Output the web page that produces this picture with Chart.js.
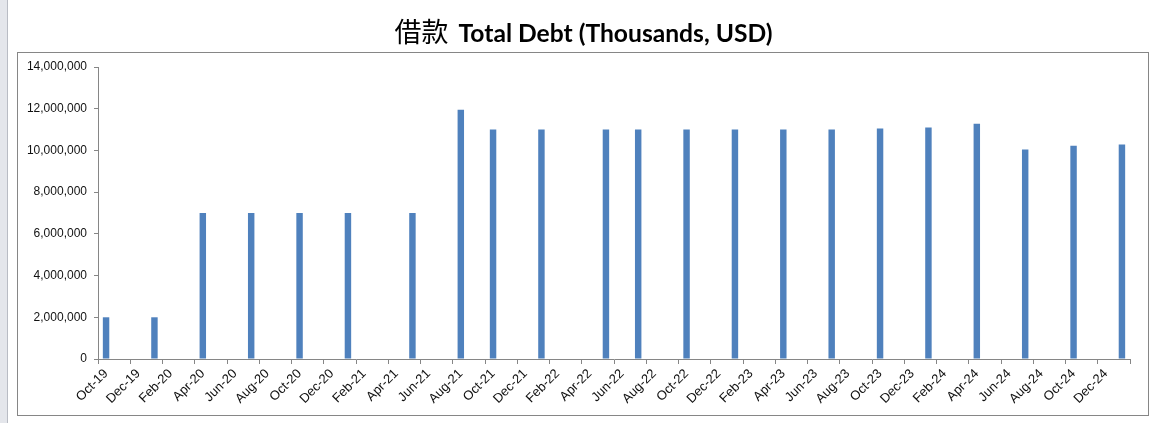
<!DOCTYPE html>
<html><head><meta charset="utf-8">
<script src="https://cdn.jsdelivr.net/npm/chart.js@4.4.1/dist/chart.umd.min.js"></script>
<style>
html,body{margin:0;padding:0;background:#fff;overflow:hidden}
#wrap{position:absolute;left:0;top:0;width:1157px;height:423px}
</style>
</head><body>
<div id="wrap"><canvas id="c" width="1157" height="423"></canvas></div>
<script>
// ---- data ----
const titleCJK = '借款';
const titleLatin = 'Total Debt (Thousands, USD)';

const months = [
  'Oct-19','Nov-19','Dec-19',
  'Jan-20','Feb-20','Mar-20','Apr-20','May-20','Jun-20','Jul-20','Aug-20','Sep-20','Oct-20','Nov-20','Dec-20',
  'Jan-21','Feb-21','Mar-21','Apr-21','May-21','Jun-21','Jul-21','Aug-21','Sep-21','Oct-21','Nov-21','Dec-21',
  'Jan-22','Feb-22','Mar-22','Apr-22','May-22','Jun-22','Jul-22','Aug-22','Sep-22','Oct-22','Nov-22','Dec-22',
  'Jan-23','Feb-23','Mar-23','Apr-23','May-23','Jun-23','Jul-23','Aug-23','Sep-23','Oct-23','Nov-23','Dec-23',
  'Jan-24','Feb-24','Mar-24','Apr-24','May-24','Jun-24','Jul-24','Aug-24','Sep-24','Oct-24','Nov-24','Dec-24',
  'Jan-25'
];

const tickLabels = [
  'Oct-19','Dec-19','Feb-20','Apr-20','Jun-20','Aug-20','Oct-20','Dec-20',
  'Feb-21','Apr-21','Jun-21','Aug-21','Oct-21','Dec-21','Feb-22','Apr-22',
  'Jun-22','Aug-22','Oct-22','Dec-22','Feb-23','Apr-23','Jun-23','Aug-23',
  'Oct-23','Dec-23','Feb-24','Apr-24','Jun-24','Aug-24','Oct-24','Dec-24'
];

const debtMonths = [
  'Oct-19','Jan-20','Apr-20','Jul-20','Oct-20','Jan-21','May-21','Aug-21',
  'Oct-21','Jan-22','May-22','Jul-22','Oct-22','Jan-23','Apr-23','Jul-23',
  'Oct-23','Jan-24','Apr-24','Jul-24','Oct-24','Jan-25'
];
const debtValues = [
  2000000, 2000000, 7000000, 7000000, 7000000, 7000000, 7000000, 11950000,
  11000000, 11000000, 11000000, 11000000, 11000000, 11000000, 11000000, 11000000,
  11050000, 11100000, 11280000, 10040000, 10230000, 10280000
];

const yMax = 14000000;
const yStep = 2000000;

// ---- styles ----
const AXIS = '#868686';
const TEXT = '#111111';
const BAR = '#4F81BD';

const framePlugin = {
  id: 'frame',
  beforeDraw(chart) {
    const c = chart.ctx;
    c.save();
    c.fillStyle = '#ffffff';
    c.fillRect(0, 0, chart.width, chart.height);
    c.fillStyle = '#e4e6eb';
    c.fillRect(0, 0, 7, chart.height);
    c.strokeStyle = '#b9bcc4';
    c.lineWidth = 1;
    c.beginPath(); c.moveTo(7.5, 0); c.lineTo(7.5, chart.height); c.stroke();
    c.strokeStyle = AXIS;
    c.strokeRect(17.5, 52.5, 1131, 363);
    c.restore();
  },
  afterDraw(chart) {
    const c = chart.ctx;
    c.save();
    c.fillStyle = '#000';
    c.font = 'bold 100px Lato, "Liberation Sans", sans-serif';
    const w100 = c.measureText(titleLatin).width;
    const size = 100 * 314 / w100;
    const latinFont = 'bold ' + size.toFixed(2) + 'px Lato, "Liberation Sans", sans-serif';
    const cjkFont = '400 27px "Noto Sans CJK SC", sans-serif';
    c.font = cjkFont;
    const w1 = c.measureText(titleCJK).width;
    c.font = latinFont;
    const w2 = c.measureText(titleLatin).width;
    const gap = 10;
    const total = w1 + gap + w2;
    const x0 = 583.5 - total / 2;
    c.textAlign = 'left';
    c.textBaseline = 'middle';
    c.font = cjkFont;
    c.fillText(titleCJK, x0, 32);
    c.textBaseline = 'alphabetic';
    c.font = latinFont;
    c.fillText(titleLatin, x0 + w1 + gap, 41.7);
    c.restore();
  }
};

new Chart(document.getElementById('c'), {
  type: 'bar',
  data: {
    labels: months,
    datasets: [{
      label: titleLatin,
      data: debtMonths.map((m, i) => ({ x: m, y: debtValues[i] })),
      backgroundColor: BAR,
      borderWidth: 0,
      categoryPercentage: 1.0,
      barPercentage: 0.4
    }]
  },
  options: {
    responsive: false,
    animation: false,
    devicePixelRatio: 1,
    layout: { padding: { left: 18, right: 27, top: 67, bottom: 0 } },
    plugins: {
      legend: { display: false },
      tooltip: { enabled: false },
      title: { display: false }
    },
    scales: {
      x: {
        type: 'category',
        offset: true,
        grid: {
          offset: true,
          drawOnChartArea: false,
          drawTicks: true,
          tickLength: 5,
          color: AXIS,
          tickColor: (ctx) => (ctx.index === undefined || ctx.index % 2 === 0) ? AXIS : 'rgba(0,0,0,0)'
        },
        border: { display: true, color: AXIS, width: 1 },
        ticks: {
          autoSkip: false,
          minRotation: 45,
          maxRotation: 45,
          padding: 2,
          color: TEXT,
          font: { family: '"Liberation Sans", Arial, sans-serif', size: 13 },
          callback: function (value) {
            const lab = this.getLabelForValue(value);
            return tickLabels.includes(lab) ? lab : '';
          }
        },
        afterFit: (s) => { s.height = 64; }
      },
      y: {
        min: 0,
        max: yMax,
        grid: {
          drawOnChartArea: false,
          drawTicks: true,
          tickLength: 4,
          color: AXIS
        },
        border: { display: true, color: AXIS, width: 1 },
        ticks: {
          stepSize: yStep,
          padding: 7,
          color: TEXT,
          font: { family: '"Liberation Sans", Arial, sans-serif', size: 12 },
          callback: (v) => Number(v).toLocaleString('en-US')
        },
        afterFit: (s) => { s.width = 80; }
      }
    }
  },
  plugins: [framePlugin]
});
</script>
</body></html>
